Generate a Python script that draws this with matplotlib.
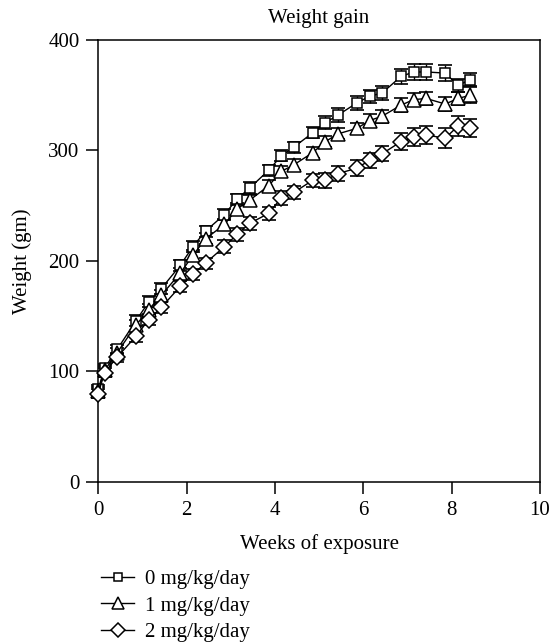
import numpy as np
import matplotlib
matplotlib.use("Agg")
import matplotlib.pyplot as plt

plt.rcParams['font.family'] = ['Liberation Serif', 'DejaVu Serif']
plt.rcParams['font.size'] = 15

# measurement days (Mon/Wed/Fri weighing), plotted in weeks
days = [0, 1, 3, 6, 8, 10, 13, 15, 17, 20, 22, 24, 27, 29, 31, 34, 36, 38,
        41, 43, 45, 48, 50, 52, 55, 57, 59]
weeks = np.array(days) / 7.0

labels = ['0 mg/kg/day', '1 mg/kg/day', '2 mg/kg/day']
markers = ['s', '^', 'D']

w_dose0 = [84, 103, 120, 146, 163, 175, 196, 213, 227, 242, 256, 266, 282, 295,
           303, 316, 325, 332, 343, 349, 352, 367, 371, 371, 370, 359, 364]
w_dose1 = [82, 101, 117, 142, 156, 169, 189, 205, 220, 233, 247, 255, 268, 281,
           287, 298, 308, 315, 320, 327, 331, 341, 346, 347, 342, 347, 350]
w_dose2 = [80, 99, 113, 132, 147, 158, 177, 188, 198, 213, 224, 234, 243, 257,
           262, 273, 273, 279, 284, 291, 297, 308, 312, 314, 311, 322, 320]

err_dose0 = [4, 4, 4, 5, 5, 5, 5, 5, 5, 5, 5, 5, 5, 5,
             5, 5, 6, 6, 6, 6, 6, 7, 7, 7, 7, 6, 6]
err_dose1 = [4, 4, 4, 5, 5, 5, 5, 5, 5, 5, 5, 5, 5, 5,
             5, 5, 5, 5, 5, 6, 6, 6, 6, 6, 6, 6, 7]
err_dose2 = [4, 4, 4, 5, 5, 5, 5, 5, 5, 6, 6, 6, 6, 6,
             6, 6, 7, 7, 7, 7, 7, 8, 8, 8, 9, 9, 8]

series = [w_dose0, w_dose1, w_dose2]
errors = [err_dose0, err_dose1, err_dose2]
msizes = [7, 10, 8.5]

fig = plt.figure(figsize=(5.52, 6.44), dpi=100)
ax = fig.add_axes([0.178, 0.2516, 0.8, 0.6864])

handles = []
for vals, err, mk, ms, lab in zip(series, errors, markers, msizes, labels):
    ax.errorbar(weeks, vals, yerr=err, fmt='none', ecolor='black',
                elinewidth=1.0, capsize=5, capthick=1.2, zorder=2,
                clip_on=False)
    h, = ax.plot(weeks, vals, color='black', lw=1.0, marker=mk, ms=ms,
                 mfc='white', mec='black', mew=1.1, label=lab, zorder=3,
                 clip_on=False)
    handles.append(h)

ax.set_xlim(0, 10)
ax.set_ylim(0, 400)
ax.set_xticks([0, 2, 4, 6, 8, 10])
ax.set_yticks([0, 100, 200, 300, 400])
ax.tick_params(direction='out', length=8.5, width=1.1, pad=5)
for s in ax.spines.values():
    s.set_linewidth(1.1)

ax.set_xlabel('Weeks of exposure', labelpad=10)
ax.set_ylabel('Weight (gm)', labelpad=12)
ax.set_title('Weight gain', fontsize=15, pad=12)

fig.legend(handles=handles, loc='upper left', bbox_to_anchor=(0.168, 0.128),
           frameon=False, handlelength=1.6, handletextpad=0.5,
           labelspacing=0.32, borderaxespad=0, markerscale=0.8)

plt.savefig('out.png', dpi=100)
